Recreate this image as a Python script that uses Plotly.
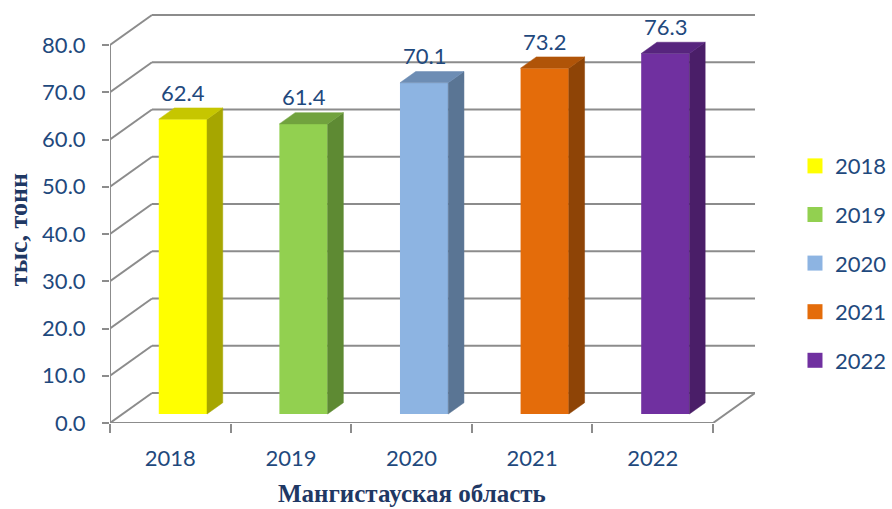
import plotly.graph_objects as go

# Production by year, Mangystau region (thousand tonnes)
years = ["2018", "2019", "2020", "2021", "2022"]
values = [62.4, 61.4, 70.1, 73.2, 76.3]
y_ticks = [0, 10, 20, 30, 40, 50, 60, 70, 80]

front_colors = ["#FFFF00", "#92D050", "#8DB4E2", "#E46C0A", "#7030A0"]
top_colors = ["#C6C600", "#71A23E", "#6D8DB4", "#B05408", "#57257E"]
side_colors = ["#A6A600", "#5E8A33", "#5A7594", "#8E4406", "#4A1E68"]

# Oblique projection of the depth axis (in data units)
DX = 0.348   # horizontal shift for full depth, in category units
DY = 6.35    # vertical shift for full depth, in value units
D0, D1 = 0.30, 0.675   # bar front / back depth fractions
HALF_W = 0.2           # half width of a bar's front face
N = len(years)

GRID = "#8C8C8C"
TEXT = "#1F497D"
TITLE = "#1F3864"

fig = go.Figure()
shapes = []

def seg(x0, y0, x1, y1):
    shapes.append(dict(type="line", xref="x", yref="y", x0=x0, y0=y0, x1=x1, y1=y1,
                       line=dict(color=GRID, width=2), layer="below"))

# Side wall diagonals and back wall gridlines
for v in y_ticks:
    seg(0, v, DX, v + DY)
    seg(DX, v + DY, N + DX, v + DY)
# Front value axis and floor edges
seg(0, 0, 0, y_ticks[-1])
seg(0, 0, N, 0)
seg(N, 0, N + DX, DY)

for i, (yr, v) in enumerate(zip(years, values)):
    c = i + 0.5
    xl0, xr0 = c - HALF_W + D0 * DX, c + HALF_W + D0 * DX
    xl1, xr1 = c - HALF_W + D1 * DX, c + HALF_W + D1 * DX
    y0, y1 = D0 * DY, D1 * DY
    # front face
    fig.add_trace(go.Bar(x=[c + D0 * DX], y=[v], base=[y0], width=[2 * HALF_W],
                         marker=dict(color=front_colors[i], line=dict(width=0)),
                         showlegend=False, hoverinfo="skip"))
    # right side face
    fig.add_trace(go.Scatter(x=[xr0, xr0, xr1, xr1, xr0], y=[y0, v + y0, v + y1, y1, y0],
                             mode="lines", fill="toself", fillcolor=side_colors[i],
                             line=dict(color=side_colors[i], width=0.5),
                             showlegend=False, hoverinfo="skip"))
    # top face
    fig.add_trace(go.Scatter(x=[xl0, xr0, xr1, xl1, xl0],
                             y=[v + y0, v + y0, v + y1, v + y1, v + y0],
                             mode="lines", fill="toself", fillcolor=top_colors[i],
                             line=dict(color=top_colors[i], width=0.5),
                             showlegend=False, hoverinfo="skip"))
    fig.add_annotation(x=c + D0 * DX, y=v + y0, text=f"{v:.1f}", showarrow=False,
                       yanchor="middle", yshift=27,
                       font=dict(family="Lato", size=22, color=TEXT))

# Legend entries
for i, yr in enumerate(years):
    fig.add_trace(go.Scatter(x=[None], y=[None], mode="markers", name=yr,
                             legendgroup=yr,
                             marker=dict(symbol="square", size=15, color=front_colors[i])))

fig.add_annotation(xref="x", yref="paper", x=N / 2, y=-0.167,
                   xanchor="center", yanchor="middle",
                   text="<b>Мангистауская область</b>", showarrow=False,
                   font=dict(family="Liberation Serif", size=25, color=TITLE))
fig.add_annotation(xref="paper", yref="paper", x=-0.1426, y=0.456,
                   xanchor="center", yanchor="middle",
                   text="<b>тыс, тонн</b>", textangle=-90, showarrow=False,
                   font=dict(family="Liberation Serif", size=26, color=TITLE))

fig.update_layout(
    width=892, height=509,
    margin=dict(l=110, r=137, t=0, b=86, autoexpand=False),
    paper_bgcolor="white", plot_bgcolor="rgba(0,0,0,0)",
    shapes=shapes,
    barmode="overlay",
    showlegend=True,
    legend=dict(x=1.062, xanchor="left", y=0.657, yanchor="top",
                tracegroupgap=17, font=dict(family="Lato", size=22, color=TEXT),
                bgcolor="rgba(0,0,0,0)"),
    xaxis=dict(range=[0, N + DX], tickmode="array",
               tickvals=[i + 0.5 for i in range(N)], ticktext=years,
               ticks="", showgrid=False, zeroline=False, showline=False,
               ticklabelstandoff=20,
               tickfont=dict(family="Lato", size=22, color=TEXT),
               minor=dict(tickmode="array", tickvals=list(range(N + 1)),
                          ticks="outside", ticklen=9, tickwidth=2,
                          tickcolor=GRID, showgrid=False)),
    yaxis=dict(range=[0, 423 / 4.725], tickmode="array", tickvals=y_ticks,
               tickformat=".1f", ticks="outside", ticklen=7, tickwidth=2,
               tickcolor=GRID, showgrid=False, zeroline=False, showline=False,
               ticklabelstandoff=12,
               tickfont=dict(family="Lato", size=22, color=TEXT)),
)

fig.write_html("out.html")
